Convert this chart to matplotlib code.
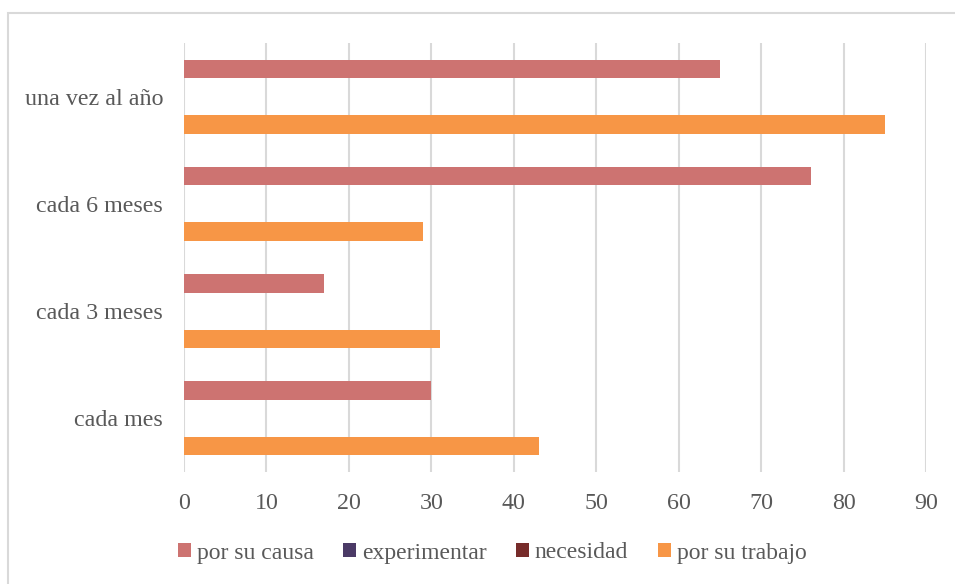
import numpy as np
import matplotlib.pyplot as plt
from matplotlib.patches import Rectangle

plt.rcParams['font.family'] = ['Liberation Serif', 'DejaVu Serif']

categorias = ['cada mes', 'cada 3 meses', 'cada 6 meses', 'una vez al año']
series = ['por su causa', 'experimentar', 'necesidad', 'por su trabajo']
por_su_causa = [30, 17, 76, 65]
experimentar = [0, 0, 0, 0]
necesidad = [0, 0, 0, 0]
por_su_trabajo = [43, 31, 29, 85]
colores = ['#CD7371', '#4B3A66', '#772C2A', '#F79646']
ticks_x = [0, 10, 20, 30, 40, 50, 60, 70, 80, 90]

gris = '#595959'
fig = plt.figure(figsize=(9.55, 5.84), dpi=100)
ax = fig.add_axes([184/955, 1-472/584, (926-184)/955, (472-43)/584])

y = np.arange(len(categorias))
h = 0.1725
offsets = [1.5*h, 0.5*h, -0.5*h, -1.5*h]
datos = [por_su_causa, experimentar, necesidad, por_su_trabajo]
for vals, off, col, nom in zip(datos, offsets, colores, series):
    ax.barh(y + off, vals, height=h, color=col, label=nom, zorder=3)

ax.set_xlim(0, 90)
ax.set_ylim(-0.5, 3.5)
ax.set_xticks(ticks_x)
ax.set_yticks(y)
ax.set_yticklabels(categorias)
ax.grid(axis='x', color='#D9D9D9', linewidth=1.5, zorder=0)
ax.tick_params(length=0, labelsize=17.3, colors=gris)
ax.tick_params(axis='x', pad=15)
ax.tick_params(axis='y', pad=15)
for s in ax.spines.values():
    s.set_visible(False)

handles, labels = ax.get_legend_handles_labels()
leg = fig.legend(handles, labels, loc='center', bbox_to_anchor=(492/955, 1-553/584),
                 ncol=4, frameon=False, fontsize=17, handlelength=0.55, handleheight=0.55,
                 handletextpad=0.25, columnspacing=1.25, labelcolor=gris)

fig.patches.append(Rectangle((8/955, -0.1), 1.2, 1.1 - 13/584, transform=fig.transFigure,
                             fill=False, edgecolor='#D9D9D9', linewidth=1.5))

fig.savefig('out.png', dpi=100)
